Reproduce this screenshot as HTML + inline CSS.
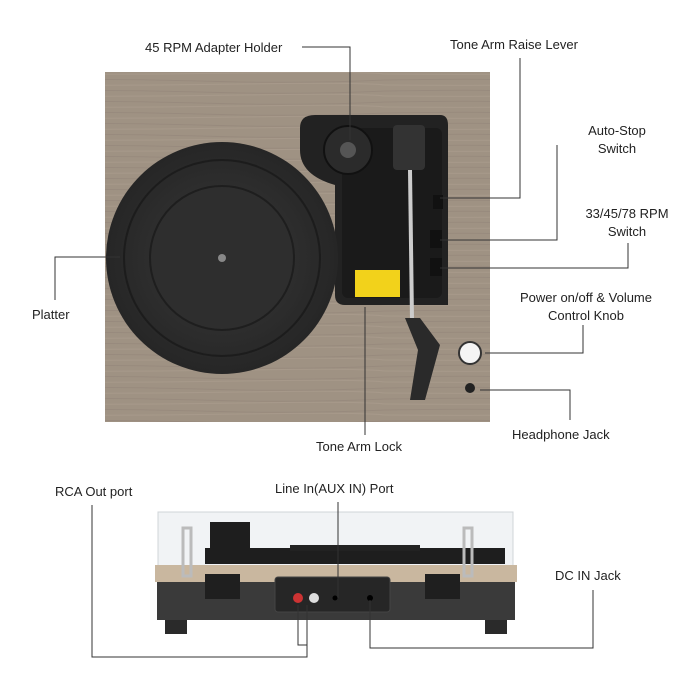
<!DOCTYPE html>
<html><head><meta charset="utf-8"><style>
html,body{margin:0;padding:0;background:#fff;}
svg{display:block;}
text{font-family:"Liberation Sans",sans-serif;font-size:13px;fill:#222;}
</style></head><body>
<svg width="690" height="690" viewBox="0 0 690 690" xmlns="http://www.w3.org/2000/svg">
<defs>
<pattern id="wood" width="385" height="11" patternUnits="userSpaceOnUse">
<rect width="385" height="11" fill="#9f9283"/>
<path d="M0 3 Q100 1 200 4 T385 3" stroke="#93867a" stroke-width="1" fill="none" opacity="0.6"/>
<path d="M0 8 Q120 9 240 7 T385 8" stroke="#ab9e90" stroke-width="1" fill="none" opacity="0.6"/>
</pattern>
<radialGradient id="plat" cx="50%" cy="50%" r="50%">
<stop offset="0" stop-color="#3a3a3a"/><stop offset="1" stop-color="#262626"/>
</radialGradient>
</defs>
<rect x="105" y="72" width="385" height="350" fill="url(#wood)"/>
<path d="M300 128 Q300 115 315 115 L440 115 Q448 115 448 125 L448 305 L345 305 Q335 305 335 295 L335 185 Q300 175 300 150 Z" fill="#222"/>
<rect x="342" y="128" width="100" height="170" rx="6" fill="#1a1a1a"/>
<circle cx="348" cy="150" r="24" fill="#2b2b2b" stroke="#111" stroke-width="2"/>
<circle cx="348" cy="150" r="8" fill="#555"/>
<rect x="355" y="270" width="45" height="27" fill="#f2d21b"/>
<rect x="393" y="125" width="32" height="45" rx="4" fill="#333"/>
<line x1="410" y1="170" x2="412" y2="320" stroke="#ccc" stroke-width="4"/>
<path d="M405 318 L420 318 L440 345 L425 400 L410 400 L418 350 Z" fill="#2a2a2a"/>
<rect x="433" y="195" width="10" height="14" fill="#111"/>
<rect x="430" y="230" width="12" height="18" fill="#111"/>
<rect x="430" y="258" width="12" height="18" fill="#111"/>
<circle cx="222" cy="258" r="116" fill="url(#plat)"/>
<circle cx="222" cy="258" r="98" fill="none" stroke="#1c1c1c" stroke-width="2"/>
<circle cx="222" cy="258" r="72" fill="#2e2e2e" stroke="#1e1e1e" stroke-width="2"/>
<circle cx="222" cy="258" r="4" fill="#888"/>
<circle cx="470" cy="353" r="11" fill="#f4f4f4" stroke="#333" stroke-width="2"/>
<circle cx="470" cy="388" r="5" fill="#222"/>
<!-- bottom device -->
<rect x="158" y="512" width="355" height="56" fill="#f1f3f5" stroke="#d0d4d8"/>
<rect x="210" y="522" width="40" height="40" fill="#1e1e1e"/>
<rect x="205" y="548" width="300" height="16" fill="#1e1e1e"/>
<rect x="290" y="545" width="130" height="6" fill="#222"/>
<rect x="155" y="565" width="362" height="17" fill="#c9b79f"/>
<rect x="157" y="582" width="358" height="38" fill="#3a3a3a"/>
<rect x="275" y="577" width="115" height="35" rx="3" fill="#262626" stroke="#444"/>
<circle cx="298" cy="598" r="5" fill="#c33"/>
<circle cx="314" cy="598" r="5" fill="#ddd"/>
<circle cx="335" cy="598" r="2.5" fill="#000"/>
<circle cx="370" cy="598" r="3" fill="#000"/>
<rect x="205" y="574" width="35" height="25" fill="#1f1f1f"/>
<rect x="425" y="574" width="35" height="25" fill="#1f1f1f"/>
<rect x="183" y="528" width="8" height="48" fill="none" stroke="#bbb" stroke-width="3"/>
<rect x="464" y="528" width="8" height="48" fill="none" stroke="#bbb" stroke-width="3"/>
<rect x="165" y="620" width="22" height="14" fill="#2a2a2a"/>
<rect x="485" y="620" width="22" height="14" fill="#2a2a2a"/>
<g stroke="#333" stroke-width="1" fill="none">
<polyline points="302,47 350,47 350,140"/>
<polyline points="520,58 520,198 440,198"/>
<polyline points="557,145 557,240 440,240"/>
<polyline points="628,243 628,268 440,268"/>
<polyline points="583,325 583,353 485,353"/>
<polyline points="570,420 570,390 480,390"/>
<polyline points="55,300 55,257 120,257"/>
<polyline points="365,435 365,307"/>
<polyline points="92,505 92,657 307,657 307,605"/>
<polyline points="298,605 298,645 307,645"/>
<polyline points="338,502 338,598"/>
<polyline points="593,590 593,648 370,648 370,600"/>
</g>
<text x="145" y="52">45 RPM Adapter Holder</text>
<text x="450" y="49">Tone Arm Raise Lever</text>
<text x="617" y="135" text-anchor="middle">Auto-Stop</text>
<text x="617" y="153" text-anchor="middle">Switch</text>
<text x="627" y="218" text-anchor="middle">33/45/78 RPM</text>
<text x="627" y="236" text-anchor="middle">Switch</text>
<text x="586" y="302" text-anchor="middle">Power on/off &amp; Volume</text>
<text x="586" y="320" text-anchor="middle">Control Knob</text>
<text x="512" y="439">Headphone Jack</text>
<text x="32" y="319">Platter</text>
<text x="316" y="451">Tone Arm Lock</text>
<text x="55" y="496">RCA Out port</text>
<text x="275" y="493">Line In(AUX IN) Port</text>
<text x="555" y="580">DC IN Jack</text>
</svg>
</body></html>
